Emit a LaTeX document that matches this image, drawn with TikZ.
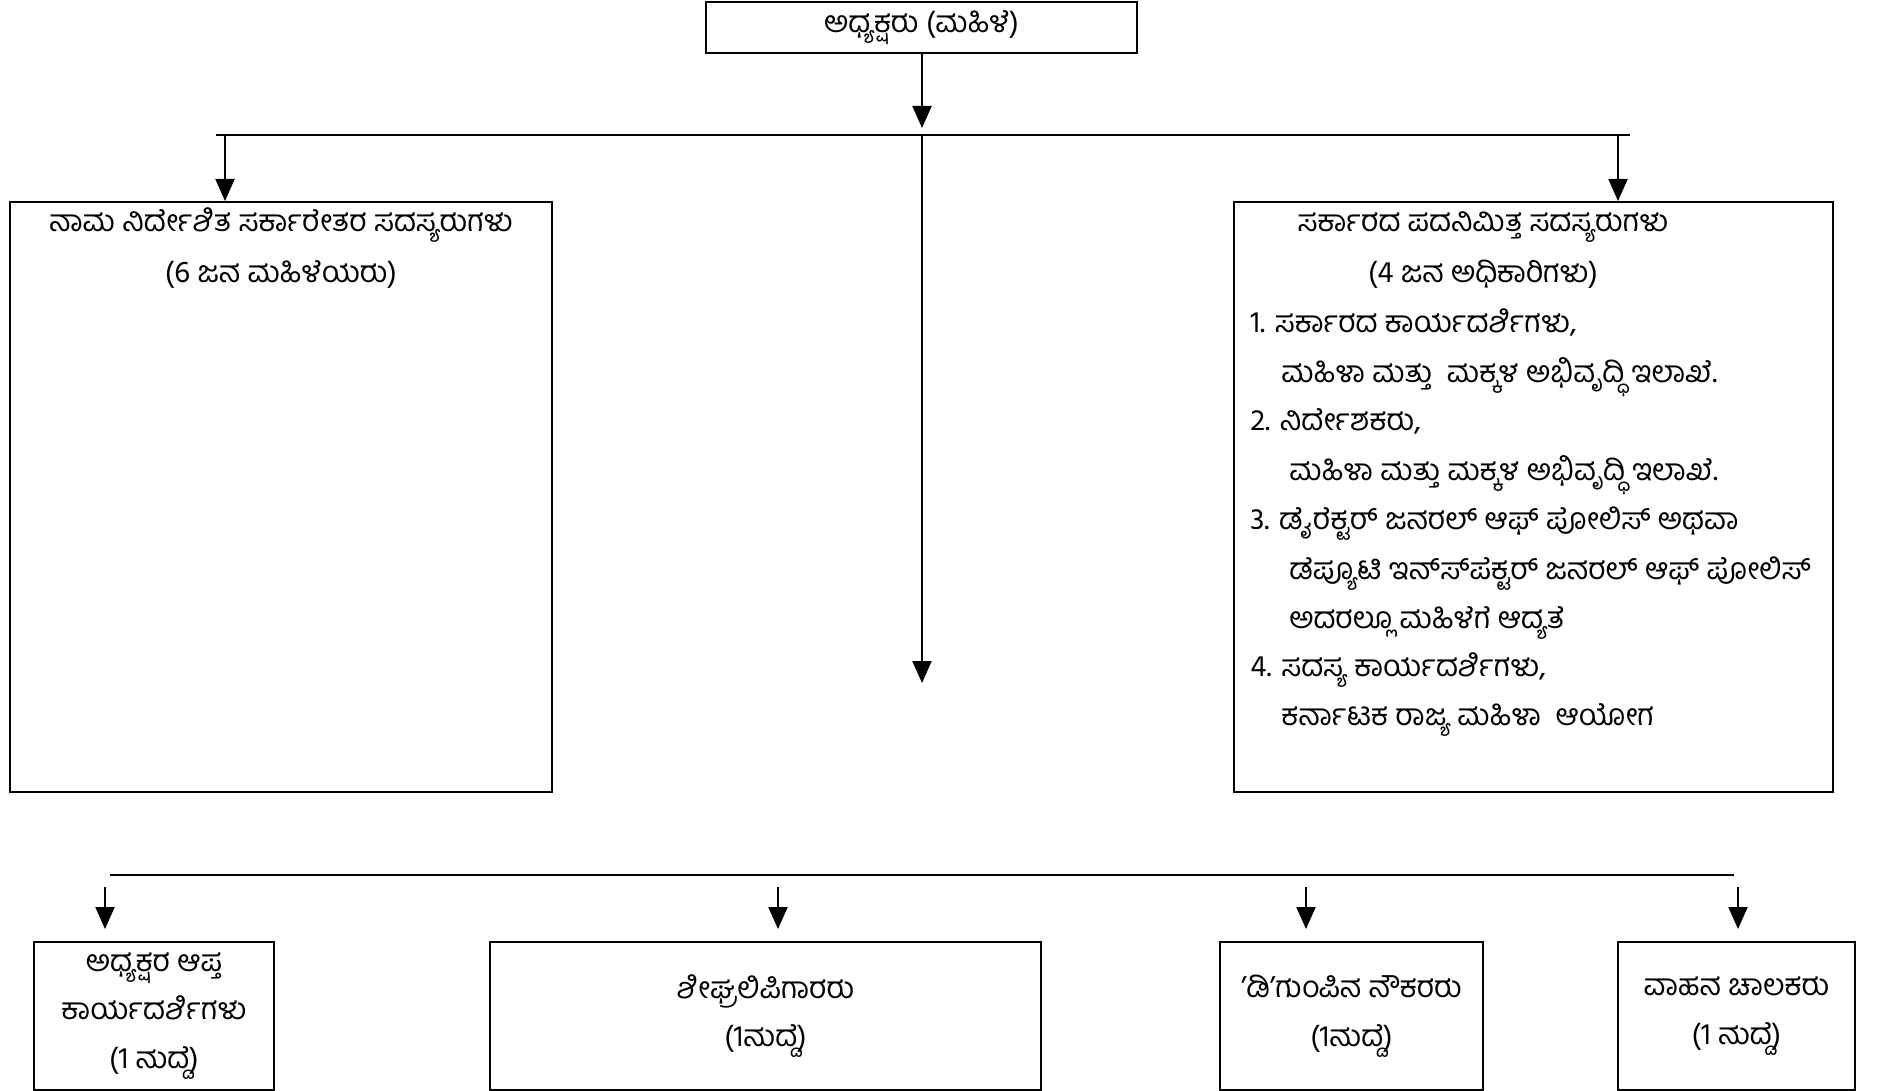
\documentclass[tikz,border=0pt]{standalone}
\usepackage{fontspec}
\setmainfont{Hind Mysuru}[Script=Kannada]
\usetikzlibrary{arrows.meta}
\begin{document}
\begin{tikzpicture}[x=0.5pt,y=-0.5pt,
  box/.style={draw, line width=1pt, inner sep=0pt, align=center,
    font=\fontsize{15}{24.3}\selectfont},
  conn/.style={line width=1pt},
  arr/.style={line width=1pt, -{Triangle[length=11pt,width=9.5pt]}},
  txt/.style={inner sep=0pt, text height=11pt, text depth=4pt,
    font=\fontsize{15}{24.3}\selectfont},
]
\useasboundingbox (0,0) rectangle (1879,1091);
% boxes
\node[box, minimum width=215.5pt, minimum height=25.5pt] (top) at (921.5,27.5) {ಅಧ್ಯಕ್ಷರು (ಮಹಿಳೆ)};
\node[box, minimum width=271pt, minimum height=295pt] (left) at (281,497) {};
\node[box, minimum width=299.5pt, minimum height=295pt] (right) at (1533.5,497) {};
\node[box, minimum width=120pt, minimum height=74pt] (b1) at (154,1016) {ಅಧ್ಯಕ್ಷರ ಆಪ್ತ\\ಕಾರ್ಯದರ್ಶಿಗಳು\\(1 ಹುದ್ದೆ)};
\node[box, minimum width=275.5pt, minimum height=74pt] (b2) at (765.5,1016) {ಶೀಘ್ರಲಿಪಿಗಾರರು\\(1ಹುದ್ದೆ)};
\node[box, minimum width=131.5pt, minimum height=74pt] (b3) at (1351.5,1016) {{\char"27}ಡಿ{\char"27}ಗುಂಪಿನ ನೌಕರರು\\(1ಹುದ್ದೆ)};
\node[box, minimum width=118.5pt, minimum height=74pt] (b4) at (1736.5,1016) {ವಾಹನ ಚಾಲಕರು\\(1 ಹುದ್ದೆ)};
% left box text
\node[txt] (l1) at (281,225) {ನಾಮ ನಿರ್ದೇಶಿತ ಸರ್ಕಾರೇತರ ಸದಸ್ಯರುಗಳು};
\node[txt] (l2) at (281,276) {(6 ಜನ ಮಹಿಳೆಯರು)};
% right box text
\node[txt] (r1) at (1483,225) {ಸರ್ಕಾರದ ಪದನಿಮಿತ್ತ ಸದಸ್ಯರುಗಳು};
\node[txt] (r2) at (1483,276) {(4 ಜನ ಅಧಿಕಾರಿಗಳು)};
\node[txt, anchor=west] (r3) at (1250,325) {1. ಸರ್ಕಾರದ ಕಾರ್ಯದರ್ಶಿಗಳು,};
\node[txt, anchor=west] (r4) at (1281,375) {ಮಹಿಳಾ ಮತ್ತು \ ಮಕ್ಕಳ ಅಭಿವೃದ್ಧಿ ಇಲಾಖೆ.};
\node[txt, anchor=west] (r5) at (1250,423) {2. ನಿರ್ದೇಶಕರು,};
\node[txt, anchor=west] (r6) at (1289,473) {ಮಹಿಳಾ ಮತ್ತು ಮಕ್ಕಳ ಅಭಿವೃದ್ಧಿ ಇಲಾಖೆ.};
\node[txt, anchor=west] (r7) at (1250,522) {3. ಡೈರೆಕ್ಟರ್ ಜನರಲ್ ಆಫ್ ಪೋಲಿಸ್ ಅಥವಾ};
\node[txt, anchor=west] (r8) at (1289,572) {ಡೆಪ್ಯೂಟಿ ಇನ್‌ಸ್‌ಪೆಕ್ಟರ್ ಜನರಲ್ ಆಫ್ ಪೋಲಿಸ್};
\node[txt, anchor=west] (r9) at (1289,621) {ಅದರಲ್ಲೂ ಮಹಿಳೆಗೆ ಆದ್ಯತೆ};
\node[txt, anchor=west] (r10) at (1250,669) {4. ಸದಸ್ಯ ಕಾರ್ಯದರ್ಶಿಗಳು,};
\node[txt, anchor=west] (r11) at (1281,718) {ಕರ್ನಾಟಕ ರಾಜ್ಯ ಮಹಿಳಾ \ ಆಯೋಗ};
% connector coordinates
\coordinate (hl) at (216,135);
\coordinate (hr) at (1630,135);
\coordinate (hm) at (922,136);
\coordinate (cend) at (922,683);
\coordinate (al) at (225,135);
\coordinate (ar) at (1618,135);
\coordinate (bl) at (110,875);
\coordinate (br) at (1734,875);
\coordinate (a1) at (105,887);
\coordinate (a2) at (778,887);
\coordinate (a3) at (1306,887);
\coordinate (a4) at (1738,887);
% connectors
\draw[conn] (hl) -- (hr);
\draw[arr] (top.south -| hm) -- ([yshift=4pt]hm);
\draw[arr] (hm) -- (cend);
\draw[arr] (al) -- (al |- left.north);
\draw[arr] (ar) -- (ar |- right.north);
\draw[conn] (bl) -- (br);
\draw[arr, shorten >=6pt] (a1) -- (a1 |- b1.north);
\draw[arr, shorten >=6pt] (a2) -- (a2 |- b2.north);
\draw[arr, shorten >=6pt] (a3) -- (a3 |- b3.north);
\draw[arr, shorten >=6pt] (a4) -- (a4 |- b4.north);
\end{tikzpicture}
\end{document}
